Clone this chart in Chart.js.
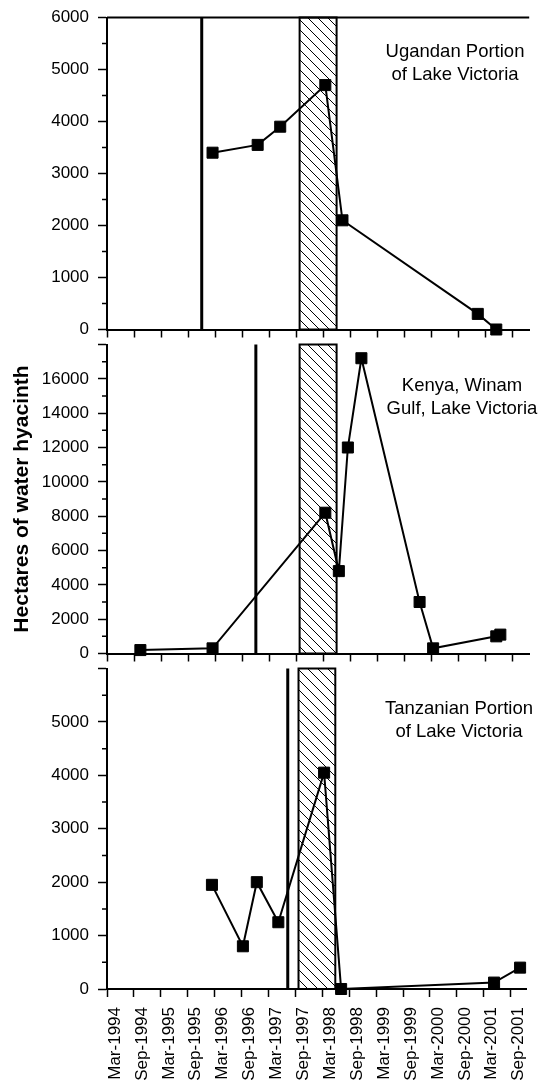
<!DOCTYPE html>
<html>
<head>
<meta charset="utf-8">
<title>Water hyacinth, Lake Victoria</title>
<script src="https://cdn.jsdelivr.net/npm/chart.js@4"></script>
<style>
    html, body { margin: 0; padding: 0; background: #fff; }
    #wrap { position: relative; width: 538px; height: 1087px; overflow: hidden; }
    #wrap canvas { position: absolute; left: 0; }
</style>
</head>
<body>
<div id="wrap">
    <canvas id="uganda" width="538" height="347" style="top:0px"></canvas>
    <canvas id="kenya" width="538" height="344" style="top:327px"></canvas>
    <canvas id="tanzania" width="538" height="436" style="top:651px"></canvas>
</div>
<script>
// x axis (shared by the three panels)
var xTickLabels = ['Mar-1994', 'Sep-1994', 'Mar-1995', 'Sep-1995', 'Mar-1996', 'Sep-1996',
    'Mar-1997', 'Sep-1997', 'Mar-1998', 'Sep-1998', 'Mar-1999', 'Sep-1999',
    'Mar-2000', 'Sep-2000', 'Mar-2001', 'Sep-2001'];
var xEnd = '2001-12-19';

// hatched band (1997-98 El Nino)
var bandStart = '1997-09-22';
var bandEnd = '1998-05-28';

// Ugandan portion
var ugandaDates = ['1996-02-13', '1996-12-13', '1997-05-13', '1998-03-13', '1998-07-07', '2001-01-07', '2001-05-10'];
var ugandaHectares = [3400, 3550, 3900, 4700, 2100, 300, 0];
var ugandaEvent = '1995-12-01';

// Kenya, Winam Gulf
var kenyaDates = ['1994-10-13', '1996-02-13', '1998-03-13', '1998-06-13', '1998-08-13', '1998-11-13',
    '1999-12-10', '2000-03-10', '2001-05-10', '2001-06-07'];
var kenyaHectares = [200, 300, 8200, 4800, 12000, 17200, 3000, 300, 1000, 1100];
var kenyaEvent = '1996-12-01';

// Tanzanian portion
var tanzaniaDates = ['1996-02-13', '1996-09-10', '1996-12-13', '1997-05-07', '1998-03-13', '1998-07-07', '2001-05-10', '2001-11-04'];
var tanzaniaHectares = [1950, 800, 2000, 1250, 4050, 0, 120, 400];
var tanzaniaEvent = '1997-07-10';

var monthNames = ['Jan', 'Feb', 'Mar', 'Apr', 'May', 'Jun', 'Jul', 'Aug', 'Sep', 'Oct', 'Nov', 'Dec'];

// months counted from Mar-1994, accepts 'Mar-1994' or '1996-02-13'
function months(d) {
    var p = d.split('-');
    if (p.length == 2) {
        return (Number(p[1]) - 1994) * 12 + monthNames.indexOf(p[0]) - 2;
    }
    return (Number(p[0]) - 1994) * 12 + Number(p[1]) - 3 + (Number(p[2]) - 1) / 30;
}

var fontFamily = '"Liberation Sans", Arial, Helvetica, sans-serif';
var tickFont = { family: fontFamily, size: 17, lineHeight: 1 };

function hatchPattern(ctx) {
    var c = document.createElement('canvas');
    c.width = 10;
    c.height = 10;
    var p = c.getContext('2d');
    p.strokeStyle = '#000';
    p.lineWidth = 1;
    p.beginPath();
    p.moveTo(0, 0); p.lineTo(10, 10);
    p.moveTo(-1, 9); p.lineTo(1, 11);
    p.moveTo(9, -1); p.lineTo(11, 1);
    p.stroke();
    return ctx.createPattern(c, 'repeat');
}

var panelDecor = {
    id: 'panelDecor',
    beforeDatasetsDraw(chart, args, opts) {
        var ctx = chart.ctx, area = chart.chartArea;
        var xs = chart.scales.x, ys = chart.scales.y;
        var h = area.bottom - area.top;
        ctx.save();

        // hatched band
        var x0 = xs.getPixelForValue(months(bandStart));
        var x1 = xs.getPixelForValue(months(bandEnd));
        ctx.fillStyle = hatchPattern(ctx);
        ctx.fillRect(x0, area.top, x1 - x0, h);
        ctx.strokeStyle = '#000';
        ctx.lineWidth = 2;
        ctx.strokeRect(x0, area.top, x1 - x0, h);

        // vertical marker line
        var xl = xs.getPixelForValue(months(opts.eventDate));
        ctx.lineWidth = 3;
        ctx.beginPath();
        ctx.moveTo(xl, area.top);
        ctx.lineTo(xl, area.bottom);
        ctx.stroke();

        // frame line on top of first panel
        if (opts.topBorder) {
            ctx.lineWidth = 2;
            ctx.beginPath();
            ctx.moveTo(area.left, area.top);
            ctx.lineTo(area.right, area.top);
            ctx.stroke();
        }

        // minor ticks on the y axis
        ctx.lineWidth = 1.5;
        ctx.beginPath();
        for (var v = opts.minorStep; v < ys.max; v += 2 * opts.minorStep) {
            var py = ys.getPixelForValue(v);
            ctx.moveTo(area.left - 5, py);
            ctx.lineTo(area.left, py);
        }
        ctx.stroke();
        ctx.restore();
    },
    afterDraw(chart, args, opts) {
        var ctx = chart.ctx, area = chart.chartArea;
        ctx.save();
        ctx.fillStyle = '#000';
        ctx.font = '18.5px ' + fontFamily;
        ctx.textAlign = 'center';
        ctx.textBaseline = 'alphabetic';
        for (var i = 0; i < opts.lines.length; i++) {
            ctx.fillText(opts.lines[i], opts.labelX, area.top + opts.labelTop + i * 23.4);
        }
        ctx.restore();
    }
};
Chart.register(panelDecor);

function makePanel(id, dates, values, cfg) {
    var points = [];
    for (var i = 0; i < dates.length; i++) {
        points.push({ x: months(dates[i]), y: values[i] });
    }
    return new Chart(document.getElementById(id), {
        type: 'line',
        data: {
            datasets: [{
                data: points,
                borderColor: '#000',
                borderWidth: 2,
                pointStyle: 'rect',
                pointRadius: 7.8,
                pointBackgroundColor: '#000',
                pointBorderColor: '#000',
                pointBorderWidth: 1,
                tension: 0,
                clip: false
            }]
        },
        options: {
            responsive: false,
            animation: false,
            layout: { padding: { top: cfg.padTop, left: 0, right: 0, bottom: 0 } },
            plugins: {
                legend: { display: false },
                tooltip: { enabled: false },
                panelDecor: {
                    eventDate: cfg.eventDate,
                    topBorder: cfg.topBorder,
                    minorStep: cfg.yStep / 2,
                    lines: cfg.lines,
                    labelX: cfg.labelX,
                    labelTop: cfg.labelTop
                }
            },
            scales: {
                x: {
                    type: 'linear',
                    min: 0,
                    max: months(xEnd),
                    afterBuildTicks: function (s) {
                        s.ticks = xTickLabels.map(function (l) { return { value: months(l) }; });
                    },
                    afterFit: function (s) { s.height = cfg.xHeight; },
                    grid: { drawOnChartArea: false, tickLength: 8, tickColor: '#000', tickWidth: 1.5 },
                    border: { color: '#000', width: 2 },
                    ticks: {
                        display: cfg.showX,
                        autoSkip: false,
                        minRotation: 90,
                        maxRotation: 90,
                        padding: 10,
                        labelOffset: 8,
                        color: '#000',
                        font: tickFont,
                        callback: function (v, i) { return xTickLabels[i]; }
                    }
                },
                y: {
                    min: 0,
                    max: cfg.yMax,
                    afterFit: function (s) { s.width = 107; },
                    grid: { drawOnChartArea: false, tickLength: 9, tickColor: '#000', tickWidth: 1.5 },
                    border: { color: '#000', width: 2 },
                    ticks: {
                        stepSize: cfg.yStep,
                        padding: 9,
                        color: '#000',
                        font: tickFont,
                        callback: function (v) { return v > cfg.yLabelMax ? '' : String(v); }
                    },
                    title: {
                        display: !!cfg.yTitle,
                        text: cfg.yTitle || '',
                        color: '#000',
                        font: { family: fontFamily, size: 21, weight: 'bold' },
                        padding: { top: 10, bottom: 0 }
                    }
                }
            }
        }
    });
}

makePanel('uganda', ugandaDates, ugandaHectares, {
    padTop: 14, xHeight: 8, showX: false, topBorder: true,
    yMax: 6000, yStep: 1000, yLabelMax: 6000,
    eventDate: ugandaEvent,
    lines: ['Ugandan Portion', 'of Lake Victoria'], labelX: 455, labelTop: 39.5
});

makePanel('kenya', kenyaDates, kenyaHectares, {
    padTop: 12, xHeight: 8, showX: false, topBorder: false,
    yMax: 18000, yStep: 2000, yLabelMax: 16000,
    yTitle: 'Hectares of water hyacinth',
    eventDate: kenyaEvent,
    lines: ['Kenya, Winam', 'Gulf, Lake Victoria'], labelX: 462, labelTop: 46
});

makePanel('tanzania', tanzaniaDates, tanzaniaHectares, {
    padTop: 12, xHeight: 98, showX: true, topBorder: false,
    yMax: 6000, yStep: 1000, yLabelMax: 5000,
    eventDate: tanzaniaEvent,
    lines: ['Tanzanian Portion', 'of Lake Victoria'], labelX: 459, labelTop: 45.3
});
</script>
</body>
</html>
